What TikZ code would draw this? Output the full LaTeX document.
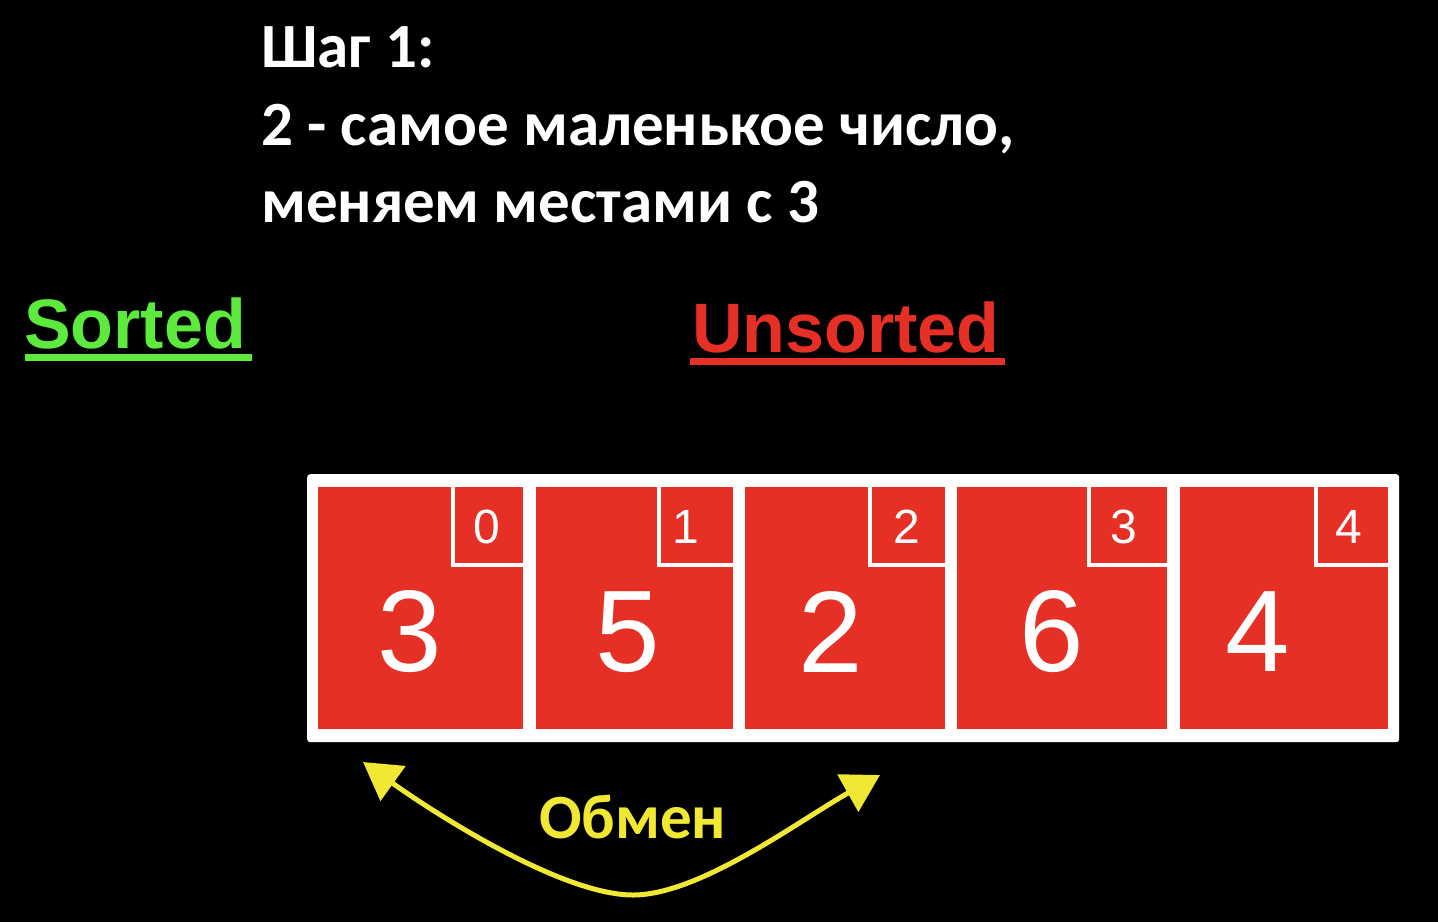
\documentclass[tikz,border=0pt]{standalone}
\usepackage{fontspec}
\setmainfont{Liberation Sans}
\newfontfamily\calfont{Carlito}
\usetikzlibrary{arrows.meta}
\definecolor{cellred}{RGB}{230,48,38}
\definecolor{sgreen}{RGB}{92,235,60}
\definecolor{ylw}{RGB}{240,232,50}
\begin{document}
\begin{tikzpicture}[x=1pt,y=-1pt,
  cellbox/.style={fill=cellred, draw=none, inner sep=0pt, anchor=north west, minimum height=242pt},
  bignum/.style={text=white, font=\fontsize{116}{116}\selectfont, inner sep=0pt},
  idxnum/.style={text=white, font=\fontsize{48}{48}\selectfont, inner sep=0pt},
  idxline/.style={draw=white, line width=4pt},
  heading/.style={text=white, font=\calfont\bfseries\fontsize{63}{72}\selectfont, anchor=base west, inner sep=0pt},
  label/.style={font=\bfseries\fontsize{70}{80}\selectfont, anchor=base west, inner sep=0pt},
  swaparrow/.style={draw=ylw, line width=5pt, {Triangle[length=37pt,width=42pt]}-{Triangle[length=37pt,width=42pt]}},
]
\useasboundingbox (0,0) rectangle (1438,922);
\fill[black] (0,0) rectangle (1438,922);

% heading
\node[heading] (h1) at (261,67) {Шаг 1:};
\node[heading] (h2) at (261,145) {2 - самое маленькое число,};
\node[heading] (h3) at (261,222) {меняем местами с 3};

% labels
\node[label, text=sgreen] (sorted) at (24,348) {Sorted};
\draw[sgreen, line width=7pt] (25,357) -- (252,357);
\node[label, text=cellred] (unsorted) at (692,352) {Unsorted};
\draw[cellred, line width=7pt] (690,361) -- (1005,361);

% array frame
\node[fill=white, draw=none, rounded corners=3pt, inner sep=0pt, anchor=north west,
      minimum width=1092pt, minimum height=268pt] (frame) at (307,474) {};

% cells
\node[cellbox, minimum width=205pt] (c0) at (318,487) {};
\node[cellbox, minimum width=197pt] (c1) at (536,487) {};
\node[cellbox, minimum width=200pt] (c2) at (745,487) {};
\node[cellbox, minimum width=210pt] (c3) at (957,487) {};
\node[cellbox, minimum width=208pt] (c4) at (1180,487) {};

% index boxes
\draw[idxline] ([xshift=-70pt]c0.north east) |- ([yshift=-78pt,xshift=1pt]c0.north east);
\draw[idxline] ([xshift=-74pt]c1.north east) |- ([yshift=-78pt,xshift=1pt]c1.north east);
\draw[idxline] ([xshift=-75pt]c2.north east) |- ([yshift=-78pt,xshift=1pt]c2.north east);
\draw[idxline] ([xshift=-78pt]c3.north east) |- ([yshift=-78pt,xshift=1pt]c3.north east);
\draw[idxline] ([xshift=-72pt]c4.north east) |- ([yshift=-78pt,xshift=1pt]c4.north east);

% index numbers
\node[idxnum] (i0) at (487,527) {0};
\node[idxnum] (i1) at (686,527) {1};
\node[idxnum] (i2) at (907,527) {2};
\node[idxnum] (i3) at (1124,527) {3};
\node[idxnum] (i4) at (1349,527) {4};

% values
\node[bignum] (v0) at (410,632) {3};
\node[bignum] (v1) at (628,632) {5};
\node[bignum] (v2) at (831,632) {2};
\node[bignum] (v3) at (1052,632) {6};
\node[bignum] (v4) at (1258,632) {4};

% swap arrow
\coordinate (swapL) at (363,762);
\coordinate (swapB) at (633,895);
\coordinate (swapR) at (880,775);
\draw[swaparrow] (swapL) .. controls (430,810) and (560,895) .. (swapB)
                 .. controls (700,895) and (800,820) .. (swapR);
\node[heading, text=ylw] (swap) at (539,838) {Обмен};
\end{tikzpicture}
\end{document}
